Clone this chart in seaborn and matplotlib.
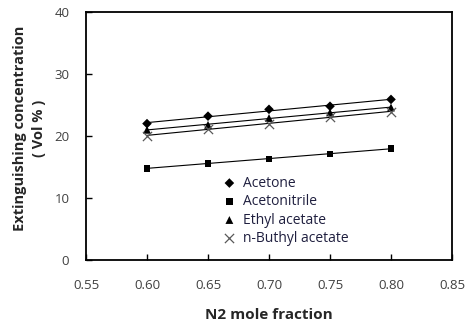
import matplotlib
matplotlib.use("Agg")
import matplotlib.pyplot as plt
import pandas as pd
import seaborn as sns

N2_FRACTION = [0.60, 0.65, 0.70, 0.75, 0.80]
ACETONE = [22.0, 23.2, 24.3, 24.8, 25.9]
ACETONITRILE = [14.8, 15.6, 16.3, 17.1, 18.0]
ETHYL_ACETATE = [21.0, 21.8, 22.9, 23.8, 24.6]
BUTHYL_ACETATE = [20.0, 21.2, 22.0, 23.1, 23.9]

SERIES = {
    "Acetone": ACETONE,
    "Acetonitrile": ACETONITRILE,
    "Ethyl acetate": ETHYL_ACETATE,
    "n-Buthyl acetate": BUTHYL_ACETATE,
}
MARKERS = {"Acetone": "D", "Acetonitrile": "s", "Ethyl acetate": "^", "n-Buthyl acetate": "x"}
SIZES = {"Acetone": 24, "Acetonitrile": 24, "Ethyl acetate": 32, "n-Buthyl acetate": 44}
COLORS = {"Acetone": "black", "Acetonitrile": "black", "Ethyl acetate": "black", "n-Buthyl acetate": "#595959"}

X_TICKS = [0.55, 0.60, 0.65, 0.70, 0.75, 0.80, 0.85]
Y_TICKS = [0, 10, 20, 30, 40]

sns.set_theme(style="white")
plt.rcParams["font.family"] = ["Open Sans", "DejaVu Sans"]

frame = pd.DataFrame(
    [(x, y, name) for name, values in SERIES.items() for x, y in zip(N2_FRACTION, values)],
    columns=["n2", "conc", "solvent"],
)

fig = plt.figure(figsize=(4.67, 3.26), dpi=100)
ax = fig.add_axes([86 / 467, 66 / 326, 366 / 467, 248 / 326])

# trend lines fitted per solvent, markers drawn on top
for name in SERIES:
    sub = frame[frame["solvent"] == name]
    sns.regplot(data=sub, x="n2", y="conc", scatter=False, ci=None, ax=ax,
                line_kws={"color": "black", "lw": 0.8})
for name in SERIES:
    sub = frame[frame["solvent"] == name]
    marker = MARKERS[name]
    kws = {"linewidth": 0.9} if marker == "x" else {"linewidth": 0, "edgecolor": "none"}
    ax.scatter(sub["n2"], sub["conc"], marker=marker, s=SIZES[name], color=COLORS[name],
               label=name, zorder=3, **kws)

ax.set_xlim(0.55, 0.85)
ax.set_ylim(0, 40)
ax.set_xticks(X_TICKS)
ax.set_xticklabels([f"{t:.2f}" for t in X_TICKS])
ax.set_yticks(Y_TICKS)
ax.tick_params(direction="in", length=4, width=1, colors="black", labelcolor="#404040",
               labelsize=9.5, bottom=True, left=True)
ax.tick_params(axis="x", pad=14)
ax.tick_params(axis="y", pad=12)
for side in ["top", "right", "bottom", "left"]:
    ax.spines[side].set_color("black")
    ax.spines[side].set_linewidth(1.3)

ax.set_xlabel("N2 mole fraction", fontsize=11, fontweight="bold", labelpad=11)
ax.set_ylabel("Extinguishing concentration\n( Vol % )", fontsize=10.5, fontweight="bold",
              linespacing=1.45)
ax.yaxis.set_label_coords(-0.11, 0.53)

ax.legend(loc="lower left", bbox_to_anchor=(0.35, 0.028), frameon=False, fontsize=10,
          handletextpad=0.35, labelspacing=0.25, borderpad=0, handlelength=1.2,
          labelcolor="#1f1f3f")

fig.savefig("out.png", dpi=100)
